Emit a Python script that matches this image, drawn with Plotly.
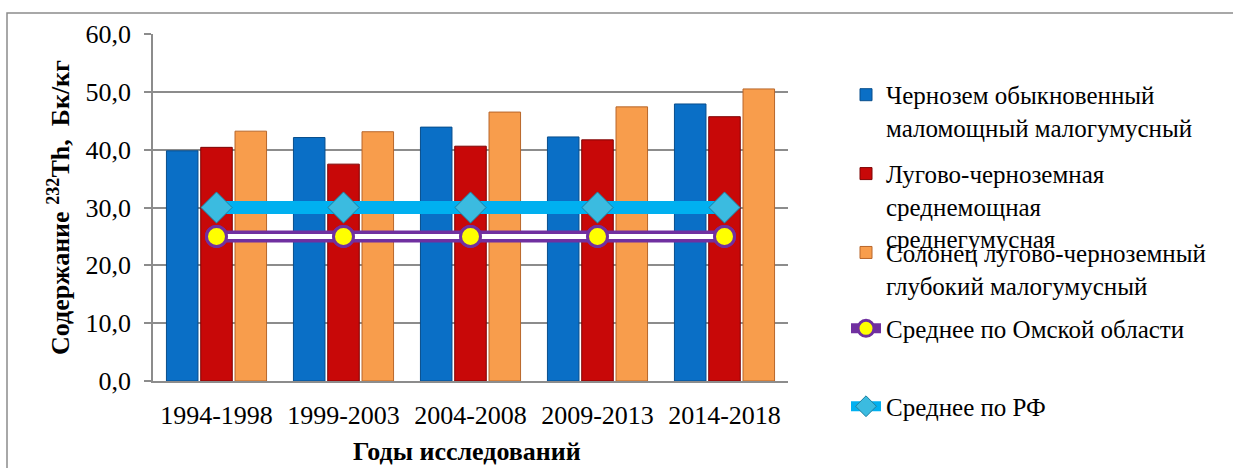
import plotly.graph_objects as go

periods = ["1994-1998", "1999-2003", "2004-2008", "2009-2013", "2014-2018"]
chernozem = [39.8, 42.1, 43.9, 42.2, 47.9]
lugovo = [40.4, 37.5, 40.6, 41.7, 45.7]
solonets = [43.2, 43.1, 46.5, 47.4, 50.5]
omsk_avg = [25.0, 25.0, 25.0, 25.0, 25.0]
rf_avg = [30.0, 30.0, 30.0, 30.0, 30.0]

names = [
    "Чернозем обыкновенный<br>маломощный малогумусный",
    "Лугово-черноземная<br>среднемощная<br>среднегумусная",
    "Солонец лугово-черноземный<br>глубокий малогумусный",
    "Среднее по Омской области",
    "Среднее по РФ",
]

W, H = 1233, 468
L, R, T, B = 153, 788, 34, 381.5


def px2x(px):
    return (px - L) / (R - L)


def py2y(py):
    return (B - py) / (B - T)


FONT = "Liberation Serif, Times New Roman, DejaVu Serif, serif"

fig = go.Figure()
fig.add_trace(go.Bar(x=periods, y=chernozem, name=names[0], legend="legend",
                     marker=dict(color="#0a6fc6", line=dict(color="#084e8c", width=1))))
fig.add_trace(go.Bar(x=periods, y=lugovo, name=names[1], legend="legend2",
                     marker=dict(color="#c80808", line=dict(color="#7e0404", width=1))))
fig.add_trace(go.Bar(x=periods, y=solonets, name=names[2], legend="legend3",
                     marker=dict(color="#f89d4c", line=dict(color="#b8662a", width=1))))

# Omsk average: purple double line with yellow circles
fig.add_trace(go.Scatter(x=periods, y=omsk_avg, name=names[3], legend="legend4",
                         mode="lines+markers",
                         line=dict(color="#7030a0", width=12),
                         marker=dict(symbol="circle", size=20, color="#ffff00",
                                     line=dict(color="#7030a0", width=3))))
fig.add_trace(go.Scatter(x=periods, y=omsk_avg, showlegend=False, mode="lines",
                         line=dict(color="#ffffff", width=5), hoverinfo="skip"))
fig.add_trace(go.Scatter(x=periods, y=omsk_avg, showlegend=False, mode="markers",
                         marker=dict(symbol="circle", size=20, color="#ffff00",
                                     line=dict(color="#7030a0", width=3)),
                         hoverinfo="skip"))

# RF average: cyan thick line with diamonds
fig.add_trace(go.Scatter(x=periods, y=rf_avg, name=names[4], legend="legend5",
                         mode="lines+markers",
                         line=dict(color="#00b0f0", width=13),
                         marker=dict(symbol="diamond", size=24, color="#3bbbe0",
                                     line=dict(color="#1f7f9f", width=1))))

item_centers = [96, 175, 254, 330, 408]
legend_x = px2x(846)
leg_common = dict(xanchor="left", yanchor="top", bgcolor="rgba(0,0,0,0)",
                  font=dict(family=FONT, size=25, color="#000000"),
                  valign="top", itemclick=False, itemdoubleclick=False)
legends = {}
for i, c in enumerate(item_centers):
    key = "legend" if i == 0 else f"legend{i + 1}"
    legends[key] = dict(x=legend_x, y=py2y(c - 24), **leg_common)

fig.update_layout(
    width=W, height=H,
    margin=dict(l=L, r=W - R, t=T, b=H - B),
    paper_bgcolor="#ffffff", plot_bgcolor="#ffffff",
    barmode="group", bargap=0.19, bargroupgap=0.08,
    separators=", ",
    font=dict(family=FONT, size=26, color="#000000"),
    showlegend=True,
    **legends,
)

fig.update_yaxes(
    automargin=False,
    range=[0, 60], dtick=10, tickformat=".1f",
    showgrid=True, gridcolor="#8c8c8c", gridwidth=1.5,
    showline=True, linecolor="#8c8c8c", linewidth=1.5,
    ticks="outside", ticklen=7, tickcolor="#8c8c8c", tickwidth=1.5,
    ticklabelstandoff=8,
    zeroline=False,
    tickfont=dict(family=FONT, size=26),
    title=dict(text="Содержание <sup>232</sup>Th,  Бк/кг",
               font=dict(family=FONT, size=26, weight="bold"), standoff=8),
)
fig.update_xaxes(
    automargin=False,
    showline=True, linecolor="#8c8c8c", linewidth=1.5,
    ticks="", ticklabelstandoff=10,
    tickfont=dict(family=FONT, size=26),
)

# x-axis title placed as annotation below the tick labels
fig.add_annotation(text="<b>Годы исследований</b>", xref="paper", yref="paper",
                   x=px2x(467), y=py2y(452), xanchor="center", yanchor="middle",
                   showarrow=False, font=dict(family=FONT, size=26, color="#000000"))

# outer chart frame
fig.add_shape(type="rect", xref="paper", yref="paper",
              x0=px2x(7), x1=px2x(1240), y0=py2y(480), y1=py2y(13),
              line=dict(color="#8c8c8c", width=1.5), fillcolor="rgba(0,0,0,0)", layer="below")

fig.write_html("out.html")
